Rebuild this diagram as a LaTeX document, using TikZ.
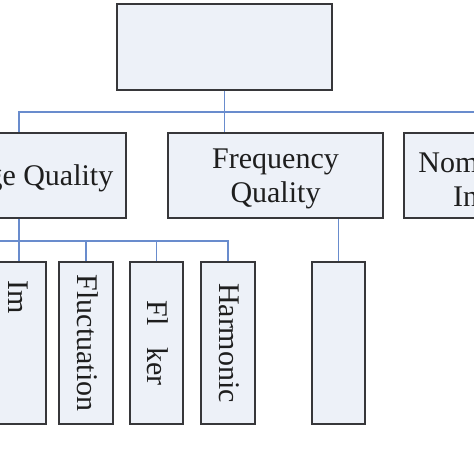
\documentclass[tikz,border=0pt]{standalone}
\usepackage{fontspec}
\setmainfont{Liberation Serif}
\definecolor{boxfill}{RGB}{237,241,248}
\definecolor{boxline}{RGB}{55,55,58}
\definecolor{linkblue}{RGB}{105,140,205}
\definecolor{txt}{RGB}{30,30,30}
\tikzset{
  box/.style={draw=boxline, fill=boxfill, line width=1.6pt, rectangle, inner sep=0pt},
  link/.style={draw=linkblue, line width=1.1pt},
  lbl/.style={text=txt, font=\fontsize{30}{30}\selectfont, align=center, inner sep=0pt},
}
\begin{document}
\begin{tikzpicture}[x=1pt,y=-1pt]
\useasboundingbox (0,0) rectangle (474,474);
\fill[white] (0,0) rectangle (474,474);
\begin{scope}
\clip (0,0) rectangle (474,474);
% boxes
\node[box, minimum width=215pt, minimum height=86pt] (top) at (224.5,47) {};
\node[box, minimum width=214pt, minimum height=85pt] (volt) at (19,175.5) {};
\node[box, minimum width=215pt, minimum height=85pt] (freq) at (275.5,175.5) {};
\node[box, minimum width=214pt, minimum height=85pt] (nom) at (511,175.5) {};
\node[box, minimum width=54pt, minimum height=162pt] (im) at (19,343) {};
\node[box, minimum width=54pt, minimum height=162pt] (fluct) at (86,343) {};
\node[box, minimum width=53pt, minimum height=162pt] (flick) at (156.5,343) {};
\node[box, minimum width=54pt, minimum height=162pt] (harm) at (228,343) {};
\node[box, minimum width=53pt, minimum height=162pt] (fchild) at (338.5,343) {};
% labels
\node[lbl] (voltlbl) at (19,178) {Voltage Quality};
\node[lbl] (freqlbl) at (275.5,179) {Frequency\\[4.5pt]Quality};
\node[lbl] (nomlbl) at (513,179) {Nominal Power\\[4.5pt]Indicators};
\node[lbl, rotate=-90] (imlbl) at (im) {Im\phantom{balance}};
\node[lbl, rotate=-90] (fluctlbl) at (88,343) {Fluctuation};
\node[lbl, rotate=-90] (flicklbl) at (157.5,343) {Fl\phantom{ic}ker};
\node[lbl, rotate=-90] (harmlbl) at (229,343) {Harmonic};
% connectors
\coordinate (bus1) at (0,112);
\coordinate (bus2) at (0,241);
\coordinate (bus2left) at (-80,241);
\draw[link] (top.south) -- (top.south |- freq.north);
\draw[link] (volt.north) -- (volt.north |- bus1) -| (nom.north);
\draw[link] (volt.south) -- (im.north);
\draw[link] (harm.north) |- (bus2left);
\draw[link] (fluct.north) -- (fluct.north |- bus2);
\draw[link] (flick.north) -- (flick.north |- bus2);
\draw[link] (fchild.north |- freq.south) -- (fchild.north);
\end{scope}
\end{tikzpicture}
\end{document}
